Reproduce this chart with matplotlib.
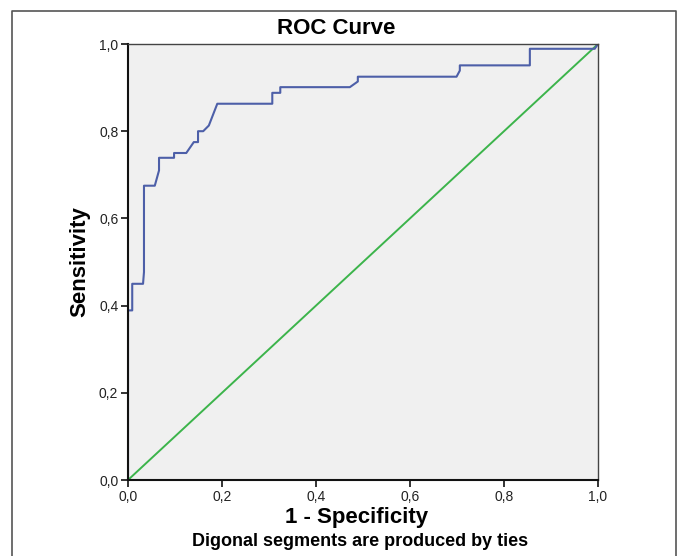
import matplotlib
matplotlib.use("Agg")
import matplotlib.pyplot as plt
from matplotlib.lines import Line2D
from matplotlib.ticker import FuncFormatter

# ROC curve points (1 - specificity, sensitivity)
fpr = [0.000, 0.000, 0.009, 0.009, 0.032, 0.034, 0.034, 0.057, 0.066, 0.066,
       0.098, 0.098, 0.124, 0.140, 0.149, 0.149, 0.160, 0.172, 0.190, 0.307,
       0.307, 0.324, 0.324, 0.472, 0.489, 0.489, 0.699, 0.706, 0.706, 0.855,
       0.855, 0.993, 1.000]
tpr = [0.000, 0.389, 0.389, 0.450, 0.450, 0.477, 0.675, 0.675, 0.710, 0.739,
       0.739, 0.750, 0.750, 0.775, 0.775, 0.800, 0.800, 0.813, 0.863, 0.863,
       0.888, 0.888, 0.901, 0.901, 0.914, 0.925, 0.925, 0.939, 0.951, 0.951,
       0.989, 0.989, 1.000]
ref_x = [0.0, 1.0]
ref_y = [0.0, 1.0]
ticks = [0.0, 0.2, 0.4, 0.6, 0.8, 1.0]

fig = plt.figure(figsize=(6.8, 5.56), dpi=100)
fig.patch.set_facecolor("white")

# outer frame (left, top, right edges)
W, H = 680, 556
fx0, fx1, fy1 = 12 / W, 676 / W, 1 - 11 / H
fig.add_artist(Line2D([fx0, fx0, fx1, fx1], [0, fy1, fy1, 0],
                      transform=fig.transFigure, color="#555555", lw=1.2))

ax = fig.add_axes([128 / W, 1 - 480 / H, 470 / W, 436 / H])
ax.set_facecolor("#f0f0f0")
ax.plot(ref_x, ref_y, color="#3cb44b", lw=1.4)
ax.plot(fpr, tpr, color="#4d5fa8", lw=1.5)
ax.set_xlim(0, 1)
ax.set_ylim(0, 1)

fmt = FuncFormatter(lambda v, p: f"{v:.1f}".replace(".", ","))
ax.set_xticks(ticks)
ax.set_yticks(ticks)
ax.xaxis.set_major_formatter(fmt)
ax.yaxis.set_major_formatter(fmt)
ax.tick_params(direction="out", length=5, width=1.2, labelsize=10,
               colors="#111111", labelcolor="#222222", pad=2)
for lbl in ax.get_xticklabels() + ax.get_yticklabels():
    lbl.set_family("Liberation Sans")
for side in ["top", "right"]:
    ax.spines[side].set_color("#444444")
    ax.spines[side].set_linewidth(1.0)
for side in ["left", "bottom"]:
    ax.spines[side].set_color("#111111")
    ax.spines[side].set_linewidth(1.5)

fig.text(336 / W, 1 - 29 / H, "ROC Curve", ha="center", va="center",
         fontsize=16, fontweight="bold", family="Liberation Sans")
fig.text(357 / W, 1 - 518 / H, "1 - Specificity", ha="center", va="center",
         fontsize=16, fontweight="bold", family="Liberation Sans")
fig.text(80 / W, 1 - 262 / H, "Sensitivity", ha="center", va="center",
         rotation=90, fontsize=16, fontweight="bold", family="Liberation Sans")
fig.text(360 / W, 1 - 541 / H, "Digonal segments are produced by ties",
         ha="center", va="center", fontsize=13, fontweight="bold",
         family="Liberation Sans")

fig.savefig("out.png", dpi=100)
